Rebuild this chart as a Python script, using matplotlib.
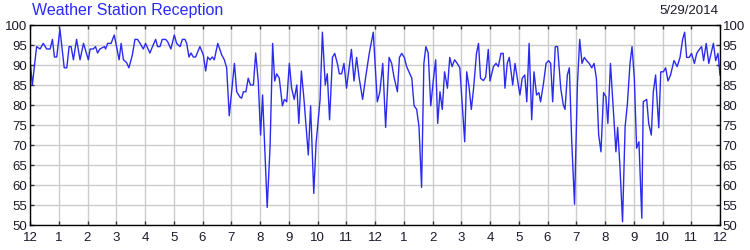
import matplotlib
matplotlib.use("Agg")
import matplotlib.pyplot as plt

# Reception (%), time in hours after midnight
hours = [
    0.00, 0.08, 0.23, 0.35, 0.46, 0.58, 0.70, 0.78, 0.85, 0.93, 1.04, 1.19, 1.28, 1.36, 1.43,
    1.51, 1.62, 1.74, 1.86, 2.03, 2.09, 2.20, 2.28, 2.35, 2.43, 2.59, 2.63, 2.70, 2.82, 2.93,
    3.01, 3.10, 3.17, 3.25, 3.36, 3.44, 3.56, 3.65, 3.74, 3.83, 3.94, 4.02, 4.17, 4.26, 4.37,
    4.44, 4.52, 4.60, 4.72, 4.79, 4.90, 5.02, 5.10, 5.22, 5.30, 5.39, 5.45, 5.53, 5.60, 5.68,
    5.76, 5.91, 6.03, 6.11, 6.18, 6.26, 6.34, 6.41, 6.53, 6.67, 6.76, 6.84, 6.93, 7.04, 7.11,
    7.19, 7.30,
    7.36, 7.42, 7.51, 7.59, 7.67, 7.77, 7.85, 7.94, 8.02, 8.09, 8.25, 8.35, 8.44, 8.51, 8.58,
    8.67, 8.78, 8.85, 8.93, 9.02, 9.10, 9.19, 9.28, 9.35, 9.44, 9.53, 9.68, 9.76, 9.87, 9.95,
    10.09, 10.17, 10.27, 10.34, 10.42, 10.52, 10.60, 10.69, 10.76, 10.84, 10.92, 11.01, 11.18,
    11.27, 11.36, 11.45, 11.57, 11.67, 11.80, 11.94, 12.08, 12.17, 12.27, 12.37, 12.49, 12.58,
    12.66, 12.78, 12.85, 12.93, 13.02, 13.10, 13.18, 13.28, 13.36, 13.45, 13.53, 13.62, 13.70,
    13.77, 13.85, 13.94, 14.03, 14.11, 14.18, 14.26, 14.34, 14.42, 14.52, 14.60, 14.68, 14.77,
    14.86, 14.95, 15.03, 15.12, 15.19, 15.27, 15.35, 15.43, 15.53, 15.60, 15.67, 15.77, 15.85,
    15.94,
    16.00, 16.12, 16.21, 16.29, 16.38, 16.46, 16.52, 16.60, 16.67, 16.79, 16.87, 16.95, 17.04,
    17.12, 17.21, 17.28, 17.36, 17.45, 17.53, 17.62, 17.70, 17.76, 17.86, 17.95, 18.04, 18.11,
    18.18, 18.27, 18.35, 18.46, 18.55, 18.61, 18.69, 18.76, 18.84, 18.94, 19.04, 19.12, 19.20,
    19.28, 19.36, 19.45, 19.54, 19.62, 19.70, 19.78, 19.86, 19.95, 20.03, 20.10, 20.19, 20.29,
    20.38, 20.44, 20.52, 20.61, 20.70, 20.78, 20.87, 20.94, 21.02, 21.10, 21.18, 21.28, 21.33,
    21.45, 21.52, 21.61, 21.68, 21.76, 21.87, 21.94, 22.03, 22.11, 22.19, 22.28, 22.40, 22.51,
    22.61, 22.70, 22.77, 22.84, 22.93, 23.01, 23.11, 23.19, 23.28, 23.36, 23.43, 23.52, 23.61,
    23.69, 23.77, 23.85, 23.93, 24.00,
]
reception = [
    91.3, 85.0, 94.6, 94.0, 95.4, 94.0, 94.0, 96.4, 92.0, 92.0, 99.0, 89.3, 89.3, 94.6, 94.6,
    91.3, 96.4, 91.3, 95.4, 91.3, 94.0, 94.0, 94.6, 93.0, 94.0, 94.6, 94.0, 95.4, 95.4, 97.5,
    94.6, 91.3, 95.4, 91.3, 90.6, 89.3, 92.5, 96.4, 96.4, 95.4, 94.0, 95.4, 93.0, 94.6, 96.4,
    94.6, 94.6, 96.4, 96.4, 95.8, 94.0, 97.5, 95.4, 94.6, 96.4, 96.4, 95.4, 92.0, 93.0, 92.0,
    92.0, 94.6, 92.5, 88.5, 92.0, 91.3, 92.0, 91.3, 95.4, 92.5, 91.3, 89.3, 77.3, 85.4, 90.4,
    83.3, 82.0,
    81.7, 83.3, 83.3, 86.7, 85.0, 85.0, 93.0, 85.8, 72.5, 82.5, 54.4, 69.6, 95.4, 86.0, 87.8,
    86.7, 79.8, 81.4, 80.8, 90.4, 84.2, 81.4, 85.0, 75.4, 88.5, 81.4, 67.5, 79.8, 57.9, 70.4,
    81.4, 98.2, 85.0, 87.8, 76.3, 91.9, 92.9, 90.4, 87.8, 87.8, 90.4, 84.2, 93.9,
    86.0, 91.9, 86.7, 81.4, 86.7, 92.9, 98.2, 80.8, 83.3, 90.4, 74.4, 91.9, 90.4,
    87.0, 83.3, 91.9, 92.9, 91.9, 89.6, 88.3, 86.7, 79.8, 78.9, 74.6, 59.4, 90.4,
    94.6, 93.0, 79.8, 86.3, 91.3, 75.4, 83.3, 78.9, 88.3, 84.2, 91.9, 89.6, 91.3,
    90.4, 89.3, 80.4, 70.8, 88.3, 84.6, 78.9, 84.2, 92.9, 95.4, 86.7, 86.1, 87.0,
    93.9,
    86.0, 89.6, 90.4, 89.6, 92.9, 92.9, 84.2, 90.4, 91.9, 85.0, 90.4, 86.7, 82.5,
    86.7, 87.5, 80.8, 95.4, 76.3, 88.3, 82.5, 83.1, 80.8, 85.4, 90.4, 91.1, 90.4,
    80.8, 94.6, 94.6, 84.2, 80.0, 78.9, 87.5, 89.3, 71.3, 55.2, 85.0, 96.4, 90.4,
    91.9, 91.1, 90.4, 89.3, 90.4, 86.7, 72.5, 68.3, 83.1, 82.1, 75.4, 90.4, 78.8,
    68.3, 74.4, 64.6, 50.8, 74.6, 80.4, 90.4, 94.6, 86.7, 69.2, 70.8, 51.7, 80.8,
    81.4, 75.4, 72.5, 83.3, 87.5, 74.3, 88.3, 88.3, 89.3, 86.0, 87.5, 91.1, 89.6,
    91.9, 96.4, 98.2, 91.9, 91.9, 92.9, 90.4, 92.9, 93.9, 94.6, 91.1, 95.4, 90.4,
    92.9, 95.4, 91.1, 92.9, 87.5,
]
hour_ticks = list(range(25))
hour_labels = ["12"] + [str(h) for h in range(1, 12)] + ["12"] + [str(h) for h in range(1, 12)] + ["12"]
y_ticks = list(range(50, 101, 5))

plt.rcParams['font.family'] = ['Liberation Sans', 'DejaVu Sans']

fig = plt.figure(figsize=(7.5, 2.5), dpi=100)
ax = fig.add_axes([0.04, 0.10, 0.92, 0.80])

ax.plot(hours, reception, color='#2b2bf0', linewidth=1.0)

ax.set_xlim(0, 24)
ax.set_ylim(50, 100)
ax.set_xticks(hour_ticks)
ax.set_xticklabels(hour_labels)
ax.set_yticks(y_ticks)

ax.grid(True, color='#cccccc', linewidth=1.0)
ax.set_axisbelow(True)
for side in ax.spines.values():
    side.set_color('black')
    side.set_linewidth(1.0)

ax.tick_params(axis='both', direction='in', length=3, width=1, color='#333333',
               labelsize=9.5, labelcolor='#1a1a2a')
ax.tick_params(axis='y', left=True, right=True, labelleft=True, labelright=True, pad=2)
ax.tick_params(axis='x', top=True, bottom=True, pad=5)

fig.text(0.043, 0.93, "Weather Station Reception", color='#2a2aff', fontsize=11.5,
         ha='left', va='bottom')
fig.text(0.958, 0.93, "5/29/2014", color='#1a1a2a', fontsize=9.5, ha='right', va='bottom')

fig.savefig("out.png", dpi=100)
